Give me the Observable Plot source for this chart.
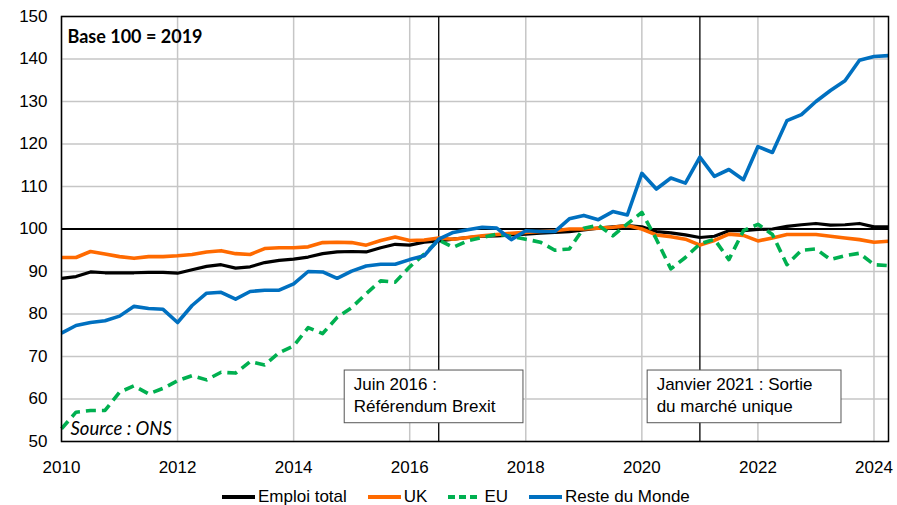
<!DOCTYPE html>
<html>
<head>
<meta charset="utf-8">
<script src="https://cdn.jsdelivr.net/npm/d3@7"></script>
<script src="https://cdn.jsdelivr.net/npm/@observablehq/plot@0.6"></script>
<style>
  html, body { margin: 0; padding: 0; background: #fff; }
  #chart { width: 897px; }
  #legend { display: flex; align-items: center; padding-left: 222px; height: 20px; padding-top: 2px;
            font-family: "Liberation Sans", Arial, sans-serif; font-size: 17px; color: #000; }
  .item { display: flex; align-items: center; margin-right: 21px; }
  .item svg { margin-right: 3px; }
</style>
</head>
<body>
<div id="chart"></div>
<div id="legend"></div>
<script>
// Quarterly, 2010 Q1 – 2024 Q2 (Base 100 = 2019)
const startYear = 2010;
const nQuarters = 58;
const quarters = Array.from({length: nQuarters}, (_, i) => startYear + i / 4);

const emploiTotal = [
  88.4, 88.8, 89.9, 89.7, 89.7, 89.7, 89.8, 89.8, 89.6, 90.4, 91.2, 91.6, 90.8,
  91.1, 92.1, 92.6, 92.9, 93.4, 94.2, 94.6, 94.7, 94.6, 95.6, 96.4, 96.2,
  96.9, 97.2, 97.6, 98.0, 98.3, 98.4, 98.6, 98.8, 99.0, 99.2, 99.4, 99.8,
  100.2, 100.5, 100.8, 100.5, 99.4, 99.1, 98.6, 98.0, 98.3, 99.6, 99.6, 99.9,
  100.0, 100.6, 101.0, 101.3, 100.9, 101.0, 101.3, 100.5, 100.5
];
const uk = [
  93.3, 93.3, 94.7, 94.1, 93.5, 93.1, 93.5, 93.5, 93.7, 94.0, 94.6, 94.9, 94.2,
  94.0, 95.4, 95.6, 95.6, 95.8, 96.8, 96.9, 96.8, 96.2, 97.3, 98.1, 97.3,
  97.4, 97.9, 97.6, 98.0, 98.4, 98.7, 99.0, 99.2, 99.4, 99.6, 100.0, 100.0,
  100.2, 100.4, 100.8, 100.0, 98.6, 98.2, 97.6, 96.2, 97.3, 98.8, 98.5, 97.2,
  97.9, 98.7, 98.7, 98.7, 98.3, 97.9, 97.5, 96.9, 97.1
];
const eu = [
  53.0, 56.9, 57.3, 57.3, 61.6, 63.1, 61.2, 62.5, 64.3, 65.5, 64.5, 66.3, 66.1,
  68.8, 68.0, 70.9, 72.5, 76.8, 75.4, 79.2, 81.5, 84.8, 87.8, 87.5, 91.1,
  94.1, 97.4, 95.7, 97.2, 98.0, 98.8, 98.3, 97.6, 96.9, 95.0, 95.3, 100.2,
  100.9, 98.4, 101.2, 103.9, 97.6, 90.6, 93.3, 96.5, 97.6, 92.8, 99.6, 101.1,
  98.7, 91.6, 95.0, 95.3, 92.8, 93.7, 94.3, 91.6, 91.4
];
const resteDuMonde = [
  75.5, 77.3, 78.0, 78.4, 79.5, 81.8, 81.3, 81.1, 78.0, 82.0, 84.9, 85.1, 83.5,
  85.3, 85.6, 85.6, 87.1, 90.0, 89.9, 88.4, 90.1, 91.3, 91.7, 91.7, 92.8,
  93.7, 97.6, 99.2, 99.8, 100.4, 100.2, 97.5, 99.6, 99.4, 99.4, 102.4, 103.2,
  102.2, 104.1, 103.3, 113.1, 109.4, 112.0, 110.8, 116.9, 112.4, 114.0, 111.6, 119.4,
  118.0, 125.5, 126.9, 130.0, 132.6, 134.9, 139.7, 140.6, 140.8
];

const seriesNames = ["Emploi total", "UK", "EU", "Reste du Monde"];
const seriesColors = ["#000000", "#FF6A00", "#00B050", "#0070C0"];
const seriesValues = [emploiTotal, uk, eu, resteDuMonde];

const xTicks = [2010, 2012, 2014, 2016, 2018, 2020, 2022, 2024];
const yTicks = [50, 60, 70, 80, 90, 100, 110, 120, 130, 140, 150];

const events = [2016.5, 2021];
const eventBoxes = [
  {x1: 2014.88, x2: 2017.96, y1: 54.3, y2: 66.7, lines: "Juin 2016 :\nRéférendum Brexit"},
  {x1: 2020.10, x2: 2023.44, y1: 54.3, y2: 66.7, lines: "Janvier 2021 : Sortie\ndu marché unique"}
];

const table = seriesNames.flatMap((name, s) =>
  quarters.map((t, i) => ({series: name, t, v: seriesValues[s][i]})));
const ofSeries = name => table.filter(d => d.series === name);

const styles = {
  "Emploi total": {strokeWidth: 3.2},
  "UK": {strokeWidth: 3.6},
  "EU": {strokeWidth: 3.6, strokeDasharray: "10,6"},
  "Reste du Monde": {strokeWidth: 3.6}
};

const font = "'Liberation Sans', Arial, sans-serif";

const chart = Plot.plot({
  width: 897,
  height: 485,
  marginLeft: 61,
  marginRight: 9,
  marginTop: 16,
  marginBottom: 44,
  style: {fontFamily: font, fontSize: "17px", color: "#000", background: "#fff"},
  x: {domain: [2010, 2024.25], ticks: xTicks, tickFormat: d => String(d), tickSize: 0, tickPadding: 19, label: null},
  y: {domain: [50, 150], ticks: yTicks, tickSize: 0, tickPadding: 14, label: null},
  marks: [
    Plot.gridX(xTicks, {stroke: "#c6c6c6", strokeOpacity: 1, strokeWidth: 1.5}),
    Plot.gridY(yTicks, {stroke: "#c6c6c6", strokeOpacity: 1, strokeWidth: 1.5}),
    Plot.ruleY([100], {stroke: "#000", strokeWidth: 2}),
    Plot.ruleX(events, {stroke: "#000", strokeWidth: 1.3}),
    Plot.rect(eventBoxes, {x1: "x1", x2: "x2", y1: "y1", y2: "y2", fill: "#fff", stroke: "#555", strokeWidth: 1}),
    Plot.text(eventBoxes, {x: "x1", y: "y2", text: "lines", textAnchor: "start", lineAnchor: "top",
      dx: 9, dy: 5, lineHeight: 1.24, fontSize: 17, fill: "#000"}),
    ...seriesNames.map((name, s) => Plot.line(ofSeries(name), {
      x: "t", y: "v", stroke: seriesColors[s], strokeLinejoin: "round", strokeLinecap: "butt", ...styles[name]
    })),
    Plot.text(["Base 100 = 2019"], {frameAnchor: "top-left", dx: 6, dy: 14, fontWeight: "bold",
      fontSize: 18, fontFamily: "Lato", fill: "#000", textAnchor: "start"}),
    Plot.text(["Source : ONS"], {frameAnchor: "bottom-left", dx: 9, dy: -7, fontStyle: "italic",
      fontSize: 18.5, fontFamily: "Lato", fill: "#000", textAnchor: "start"}),
    Plot.frame({stroke: "#000", strokeWidth: 1.5})
  ]
});
document.getElementById("chart").appendChild(chart);

const legend = document.getElementById("legend");
seriesNames.forEach((name, s) => {
  const item = document.createElement("div");
  item.className = "item";
  const dash = name === "EU" ? ' stroke-dasharray="7,4"' : "";
  item.innerHTML = `<svg width="33" height="8"><line x1="0" y1="4" x2="33" y2="4" stroke="${seriesColors[s]}" stroke-width="4"${dash}/></svg><span>${name}</span>`;
  legend.appendChild(item);
});
</script>
</body>
</html>
